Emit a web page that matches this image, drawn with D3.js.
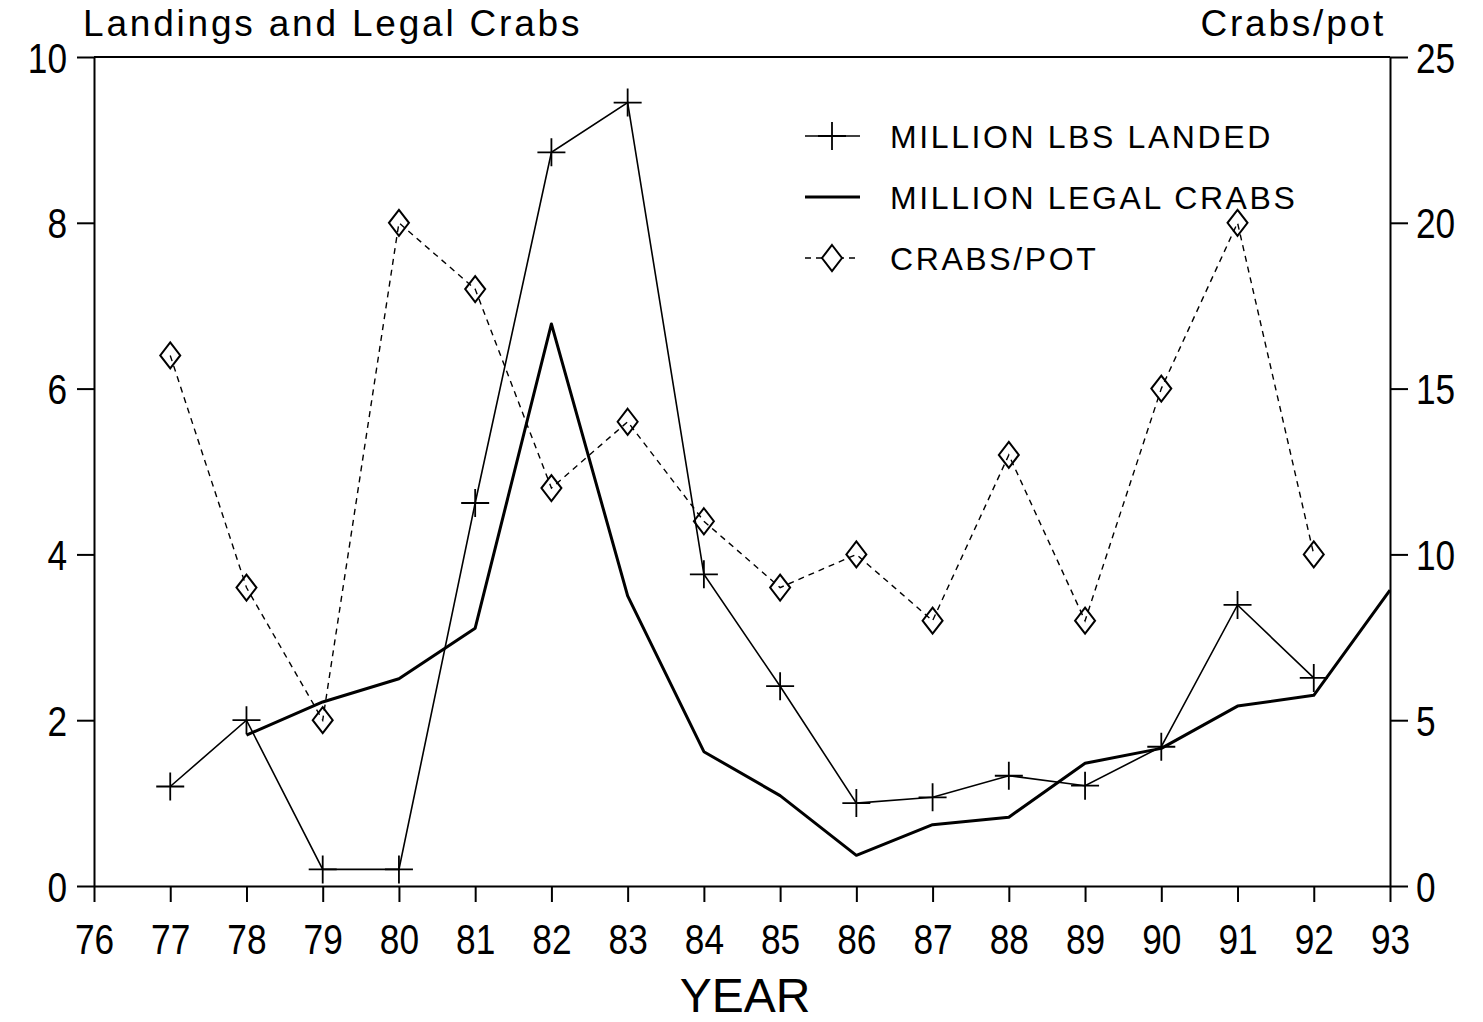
<!DOCTYPE html>
<html lang="en">
<head>
<meta charset="UTF-8">
<title>Landings and Legal Crabs</title>
<script src="https://d3js.org/d3.v7.min.js"></script>
<style>
    * { margin: 0; padding: 0; }
    body { background: #fff; overflow: hidden; }
    svg { display: block; }
    .tick text { font-family: "Liberation Sans", Arial, sans-serif; font-size: 42px; fill: #000; }
    .axis path, .axis line { stroke: #000; stroke-width: 2px; }
    .title { font-family: "Liberation Sans", Arial, sans-serif; font-size: 37px; letter-spacing: 2.8px; fill: #000; }
    .legend text { font-family: "Liberation Sans", Arial, sans-serif; font-size: 32px; letter-spacing: 2.6px; fill: #000; }
</style>
</head>
<body>
<div id="chart"></div>
<script>
// values
const years = [77, 78, 79, 80, 81, 82, 83, 84, 85, 86, 87, 88, 89, 90, 91, 92];
const lbsLanded = [1.2, 2.0, 0.2, 0.2, 4.62, 8.85, 9.45, 3.76, 2.41, 1.0, 1.07, 1.33, 1.21, 1.68, 3.39, 2.51];
const legalYears = [78, 79, 80, 81, 82, 83, 84, 85, 86, 87, 88, 89, 90, 91, 92, 93];
const legalCrabs = [1.82, 2.22, 2.5, 3.11, 6.78, 3.5, 1.62, 1.09, 0.37, 0.74, 0.83, 1.48, 1.66, 2.17, 2.3, 3.57];
const crabsPerPot = [16, 9, 5, 20, 18, 12, 14, 11, 9, 10, 8, 13, 8, 15, 20, 10];

const xTicks = [76, 77, 78, 79, 80, 81, 82, 83, 84, 85, 86, 87, 88, 89, 90, 91, 92, 93];
const leftTicks = [0, 2, 4, 6, 8, 10];
const rightTicks = [0, 5, 10, 15, 20, 25];
const legendLabels = ['MILLION LBS LANDED', 'MILLION LEGAL CRABS', 'CRABS/POT'];

const W = 1483, H = 1022;
const plot = { left: 94, right: 1390, top: 57, bottom: 886 };
const squeeze = 0.84; // the original tick digits are narrow

const svg = d3.select('#chart').append('svg')
    .attr('width', W)
    .attr('height', H);

const x = d3.scaleLinear().domain([76, 93]).range([plot.left, plot.right]);
const yL = d3.scaleLinear().domain([0, 10]).range([plot.bottom, plot.top]);
const yR = d3.scaleLinear().domain([0, 25]).range([plot.bottom, plot.top]);

// axes
svg.append('g')
    .attr('class', 'axis')
    .attr('transform', `translate(${plot.left},0)`)
    .call(d3.axisLeft(yL).tickValues(leftTicks).tickSize(17).tickSizeOuter(0))
    .selectAll('text')
    .attr('x', -27 / squeeze)
    .attr('dy', '0.36em')
    .attr('transform', `scale(${squeeze},1)`);

svg.append('g')
    .attr('class', 'axis')
    .attr('transform', `translate(${plot.right},0)`)
    .call(d3.axisRight(yR).tickValues(rightTicks).tickSize(18).tickSizeOuter(0))
    .selectAll('text')
    .attr('x', 26 / squeeze)
    .attr('dy', '0.36em')
    .attr('transform', `scale(${squeeze},1)`);

svg.append('g')
    .attr('class', 'axis')
    .attr('transform', `translate(0,${plot.bottom})`)
    .call(d3.axisBottom(x).tickValues(xTicks).tickSize(16).tickPadding(22).tickSizeOuter(0))
    .selectAll('text')
    .attr('transform', `scale(${squeeze},1)`);

// top frame line
svg.append('line')
    .attr('x1', plot.left).attr('x2', plot.right)
    .attr('y1', plot.top).attr('y2', plot.top)
    .attr('stroke', '#000').attr('stroke-width', 2);

// titles
svg.append('text').attr('class', 'title')
    .attr('x', 83).attr('y', 36)
    .text('Landings and Legal Crabs');

svg.append('text').attr('class', 'title')
    .attr('x', 1386).attr('y', 36)
    .attr('text-anchor', 'end')
    .text('Crabs/pot');

svg.append('text')
    .attr('x', (plot.left + plot.right) / 2 + 3).attr('y', 1012)
    .attr('text-anchor', 'middle')
    .style('font-family', '"Liberation Sans", Arial, sans-serif')
    .style('font-size', '48px')
    .text('YEAR');

// series
const landedData = years.map((yr, i) => ({ x: yr, y: lbsLanded[i] }));
const legalData = legalYears.map((yr, i) => ({ x: yr, y: legalCrabs[i] }));
const potData = years.map((yr, i) => ({ x: yr, y: crabsPerPot[i] }));

const lineL = d3.line().x(d => x(d.x)).y(d => yL(d.y));
const lineR = d3.line().x(d => x(d.x)).y(d => yR(d.y));

svg.append('path')
    .datum(potData)
    .attr('d', lineR)
    .attr('fill', 'none')
    .attr('stroke', '#000')
    .attr('stroke-width', 1.4)
    .attr('stroke-dasharray', '6,5');

svg.append('path')
    .datum(legalData)
    .attr('d', lineL)
    .attr('fill', 'none')
    .attr('stroke', '#000')
    .attr('stroke-width', 3)
    .attr('stroke-linejoin', 'round');

svg.append('path')
    .datum(landedData)
    .attr('d', lineL)
    .attr('fill', 'none')
    .attr('stroke', '#000')
    .attr('stroke-width', 1.6);

const crossPath = 'M-14,0H14M0,-14V14';
const diamondPath = 'M0,-13L10,0L0,13L-10,0Z';

svg.append('g').selectAll('path')
    .data(landedData)
    .join('path')
    .attr('transform', d => `translate(${x(d.x)},${yL(d.y)})`)
    .attr('d', crossPath)
    .attr('stroke', '#000')
    .attr('stroke-width', 1.8);

svg.append('g').selectAll('path')
    .data(potData)
    .join('path')
    .attr('transform', d => `translate(${x(d.x)},${yR(d.y)})`)
    .attr('d', diamondPath)
    .attr('fill', 'none')
    .attr('stroke', '#000')
    .attr('stroke-width', 2);

// legend
const legend = svg.append('g').attr('class', 'legend');
const legendY = [136, 197, 258];

legend.append('line')
    .attr('x1', 805).attr('x2', 860).attr('y1', legendY[0]).attr('y2', legendY[0])
    .attr('stroke', '#000').attr('stroke-width', 1.6);
legend.append('path')
    .attr('transform', `translate(832,${legendY[0]})`)
    .attr('d', crossPath)
    .attr('stroke', '#000').attr('stroke-width', 1.8);

legend.append('line')
    .attr('x1', 805).attr('x2', 860).attr('y1', legendY[1]).attr('y2', legendY[1])
    .attr('stroke', '#000').attr('stroke-width', 3);

legend.append('line')
    .attr('x1', 805).attr('x2', 860).attr('y1', legendY[2]).attr('y2', legendY[2])
    .attr('stroke', '#000').attr('stroke-width', 1.4).attr('stroke-dasharray', '6,5');
legend.append('path')
    .attr('transform', `translate(832,${legendY[2]})`)
    .attr('d', diamondPath)
    .attr('fill', '#fff')
    .attr('stroke', '#000').attr('stroke-width', 2);

legend.selectAll('text')
    .data(legendLabels)
    .join('text')
    .attr('x', 890)
    .attr('y', (d, i) => legendY[i] + 12)
    .text(d => d);
</script>
</body>
</html>
